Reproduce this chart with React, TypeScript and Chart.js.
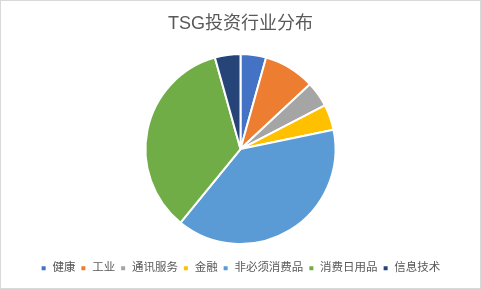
import React, { useEffect, useRef } from "react";
import { Chart, registerables } from "chart.js";

Chart.register(...registerables);

const TITLE = "TSG投资行业分布";
const CATEGORIES = ["健康", "工业", "通讯服务", "金融", "非必须消费品", "消费日用品", "信息技术"];
const VALUES = [1, 2, 1, 1, 9, 8, 1];
const COLORS = ["#4472C4", "#ED7D31", "#A5A5A5", "#FFC000", "#5B9BD5", "#70AD47", "#264478"];

const FONT = '"Liberation Sans", "Noto Sans CJK SC", sans-serif';

export default function App() {
  const ref = useRef<HTMLCanvasElement | null>(null);

  useEffect(() => {
    document.body.style.margin = "0";
    const ctx = ref.current;
    if (!ctx) return;
    const chart = new Chart(ctx, {
      type: "pie",
      data: {
        labels: CATEGORIES,
        datasets: [
          {
            data: VALUES,
            backgroundColor: COLORS,
            borderColor: "#ffffff",
            borderWidth: 2,
            radius: 95,
          },
        ],
      },
      options: {
        animation: false,
        responsive: false,
        maintainAspectRatio: false,
        layout: { padding: { top: 0, bottom: 4, left: 0, right: 0 } },
        plugins: {
          title: {
            display: true,
            text: TITLE,
            color: "#595959",
            font: { family: FONT, size: 18, weight: "normal" },
            padding: { top: 12, bottom: 6 },
          },
          legend: {
            position: "bottom",
            labels: {
              color: "#595959",
              font: { family: FONT, size: 11.5 },
              boxWidth: 6,
              boxHeight: 6,
              padding: 5,
            },
          },
          tooltip: { enabled: false },
        },
      },
    });
    return () => chart.destroy();
  }, []);

  return (
    <div
      style={{
        width: 481,
        height: 289,
        boxSizing: "border-box",
        border: "1px solid #d9d9d9",
        background: "#ffffff",
        position: "relative",
      }}
    >
      <canvas ref={ref} width={479} height={287} style={{ display: "block" }} />
    </div>
  );
}
